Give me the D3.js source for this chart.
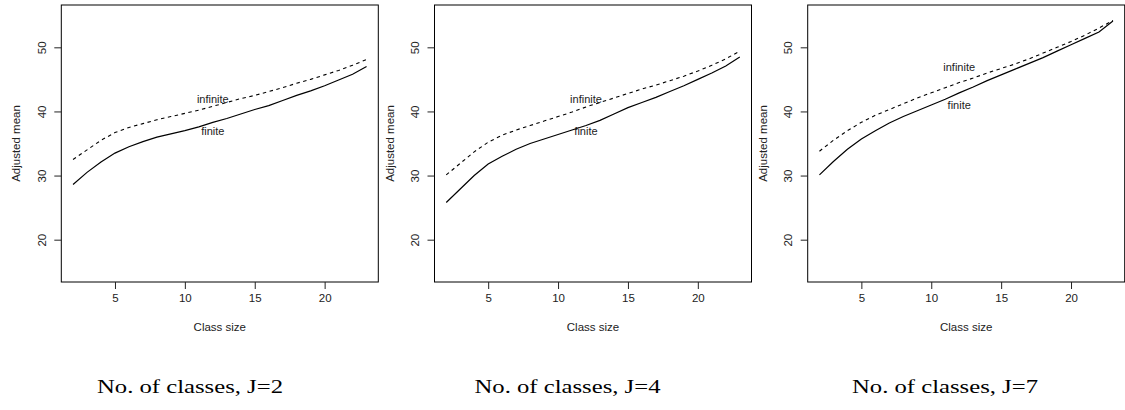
<!DOCTYPE html>
<html>
<head>
<meta charset="utf-8">
<script src="https://cdn.jsdelivr.net/npm/d3@7"></script>
<style>
  html, body { margin: 0; padding: 0; background: #fff; }
  svg { display: block; }
  .tick text, .lab { font-family: "Liberation Sans", Arial, Helvetica, sans-serif; }
</style>
</head>
<body>
<svg id="chart" width="1125" height="410"></svg>
<script>
// Class sizes on the horizontal axis
const classSize = [2, 3, 4, 5, 6, 7, 8, 9, 10, 11, 12, 13, 14, 15, 16, 17, 18, 19, 20, 21, 22, 23];

// Adjusted means, finite-population version, per number of classes J
const finiteJ2 = [28.6, 30.5, 32.1, 33.5, 34.5, 35.3, 36.0, 36.5, 37.0, 37.6, 38.3, 38.9, 39.6, 40.3, 40.9, 41.7, 42.5, 43.2, 44.0, 44.9, 45.8, 47.0];
const finiteJ4 = [25.8, 27.9, 30.0, 31.8, 33.0, 34.1, 35.0, 35.7, 36.4, 37.1, 37.8, 38.6, 39.6, 40.6, 41.4, 42.2, 43.1, 44.0, 45.0, 46.0, 47.1, 48.5];
const finiteJ7 = [30.1, 32.2, 34.1, 35.7, 37.0, 38.2, 39.2, 40.1, 41.0, 41.9, 42.9, 43.8, 44.8, 45.7, 46.6, 47.5, 48.4, 49.4, 50.4, 51.4, 52.4, 54.1];

// Adjusted means, infinite-population version
const infiniteJ2 = [32.5, 34.0, 35.5, 36.7, 37.5, 38.1, 38.7, 39.2, 39.7, 40.2, 40.8, 41.4, 42.0, 42.5, 43.1, 43.7, 44.4, 45.0, 45.7, 46.4, 47.2, 48.1];
const infiniteJ4 = [30.1, 31.9, 33.7, 35.2, 36.3, 37.1, 37.8, 38.5, 39.2, 39.9, 40.7, 41.4, 42.1, 42.8, 43.5, 44.1, 44.8, 45.5, 46.3, 47.2, 48.2, 49.4];
const infiniteJ7 = [33.8, 35.5, 37.0, 38.3, 39.4, 40.3, 41.2, 42.1, 42.9, 43.7, 44.5, 45.2, 46.0, 46.7, 47.4, 48.2, 49.1, 50.0, 50.9, 51.9, 53.0, 54.2];

// Panel captions
const captions = ["No. of classes, J=2", "No. of classes, J=4", "No. of classes, J=7"];

// Curve label anchors (class size, adjusted mean) per panel
const infiniteLabelAt = [[12, 42], [12, 42], [12, 47]];
const finiteLabelAt = [[12, 37], [12, 37], [12, 41]];

// Axis ticks and limits
const xTicks = [5, 10, 15, 20];
const yTicks = [20, 30, 40, 50];
const yLimits = [15, 55];

const panels = [
  { finite: finiteJ2, infinite: infiniteJ2 },
  { finite: finiteJ4, infinite: infiniteJ4 },
  { finite: finiteJ7, infinite: infiniteJ7 }
];

// ---- layout ----
const svg = d3.select("#chart");
const panelStep = 373.2;
const box = { left: 61.3, right: 378.3, top: 5, bottom: 282 };
const captionX0 = 190, captionStep = 377.5, captionY = 393;

// R-style 4% padding on the data range
function padded(lo, hi) {
  const p = (hi - lo) * 0.04;
  return [lo - p, hi + p];
}
const x = d3.scaleLinear()
  .domain(padded(d3.min(classSize), d3.max(classSize)))
  .range([box.left, box.right]);
const y = d3.scaleLinear()
  .domain(padded(yLimits[0], yLimits[1]))
  .range([box.bottom, box.top]);

const line = d3.line()
  .x(d => x(d[0]))
  .y(d => y(d[1]));

panels.forEach((p, i) => {
  const g = svg.append("g").attr("transform", `translate(${i * panelStep},0)`);

  // plot frame
  g.append("rect")
    .attr("x", box.left).attr("y", box.top)
    .attr("width", box.right - box.left).attr("height", box.bottom - box.top)
    .attr("fill", "none").attr("stroke", "#000").attr("stroke-width", 1);

  // x axis
  const xa = g.append("g")
    .attr("transform", `translate(0,${box.bottom})`)
    .call(d3.axisBottom(x).tickValues(xTicks).tickSize(7).tickPadding(5).tickFormat(d3.format("d")));
  xa.select(".domain").remove();
  xa.selectAll(".tick line").attr("stroke", "#222");
  xa.selectAll(".tick text").attr("font-size", 11.5).attr("fill", "#222");

  // y axis, labels rotated parallel to the axis
  const ya = g.append("g")
    .attr("transform", `translate(${box.left},0)`)
    .call(d3.axisLeft(y).tickValues(yTicks).tickSize(7).tickFormat(d3.format("d")));
  ya.select(".domain").remove();
  ya.selectAll(".tick line").attr("stroke", "#222");
  ya.selectAll(".tick text")
    .attr("x", null).attr("dy", null)
    .attr("text-anchor", "middle")
    .attr("dominant-baseline", "central")
    .attr("transform", "translate(-19.5,0) rotate(-90)")
    .attr("font-size", 11.5).attr("fill", "#222");

  // axis titles
  g.append("text").attr("class", "lab")
    .attr("x", (box.left + box.right) / 2).attr("y", 331)
    .attr("text-anchor", "middle").attr("font-size", 11.5).attr("fill", "#222")
    .text("Class size");
  g.append("text").attr("class", "lab")
    .attr("transform", `translate(${box.left - 45},${(box.top + box.bottom) / 2}) rotate(-90)`)
    .attr("text-anchor", "middle").attr("dominant-baseline", "central")
    .attr("font-size", 11.5).attr("fill", "#222")
    .text("Adjusted mean");

  // curves
  g.append("path")
    .datum(d3.zip(classSize, p.infinite))
    .attr("d", line).attr("fill", "none")
    .attr("stroke", "#000").attr("stroke-width", 1.1)
    .attr("stroke-dasharray", "3.5,3.5");
  g.append("path")
    .datum(d3.zip(classSize, p.finite))
    .attr("d", line).attr("fill", "none")
    .attr("stroke", "#000").attr("stroke-width", 1.2);

  // curve labels
  g.append("text").attr("class", "lab")
    .attr("x", x(infiniteLabelAt[i][0])).attr("y", y(infiniteLabelAt[i][1]))
    .attr("text-anchor", "middle").attr("dominant-baseline", "central")
    .attr("font-size", 11).attr("fill", "#222")
    .text("infinite");
  g.append("text").attr("class", "lab")
    .attr("x", x(finiteLabelAt[i][0])).attr("y", y(finiteLabelAt[i][1]))
    .attr("text-anchor", "middle").attr("dominant-baseline", "central")
    .attr("font-size", 11).attr("fill", "#222")
    .text("finite");
});

// panel captions
svg.selectAll("text.caption")
  .data(captions)
  .join("text")
  .attr("class", "caption")
  .attr("x", (d, i) => captionX0 + i * captionStep)
  .attr("y", captionY)
  .attr("text-anchor", "middle")
  .attr("font-family", "'Liberation Serif', 'DejaVu Serif', serif")
  .attr("font-size", 18)
  .attr("fill", "#000")
  .attr("textLength", 186)
  .attr("lengthAdjust", "spacingAndGlyphs")
  .text(d => d);
</script>
</body>
</html>
